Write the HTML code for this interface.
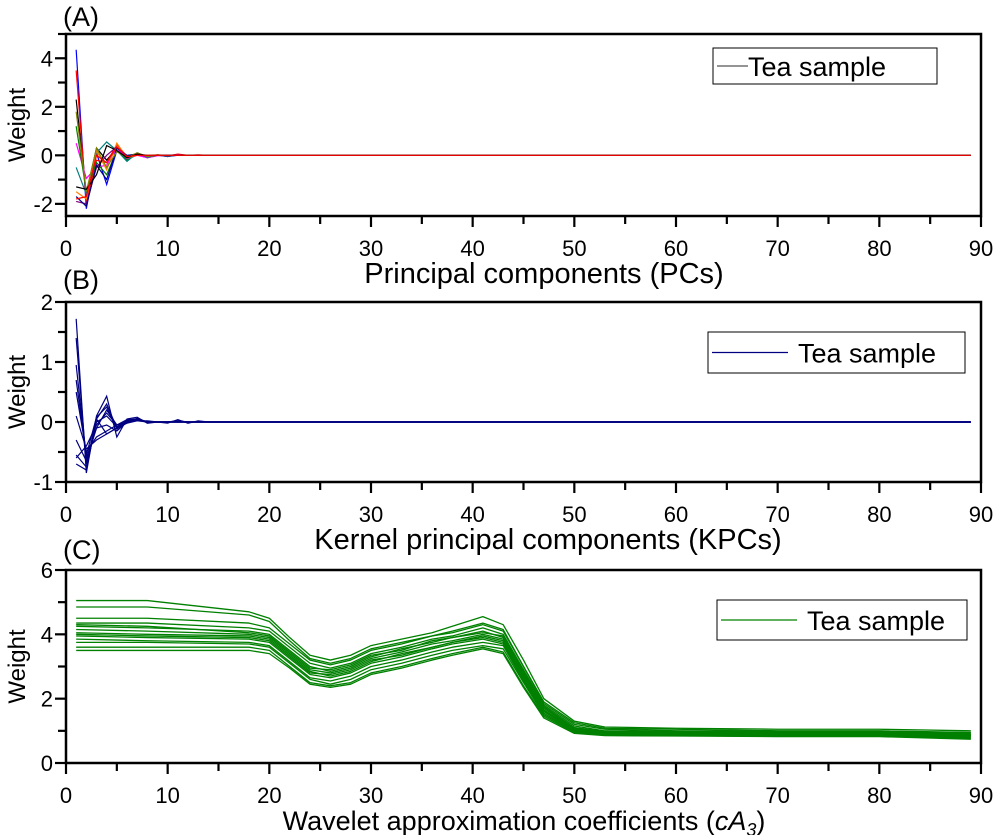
<!DOCTYPE html>
<html><head><meta charset="utf-8"><style>
body{margin:0;background:#fff;}
svg text{font-family:"Liberation Sans",sans-serif;fill:#000;}
</style></head><body>
<svg id="c" width="1000" height="835" xmlns="http://www.w3.org/2000/svg"></svg>
<script>
// ---- data ----
const xTicks=[0,10,20,30,40,50,60,70,80,90];
const yTicksA=[-2,0,2,4];
const yTicksB=[-1,0,1,2];
const yTicksC=[0,2,4,6];
const colorsA=["#000000","#0000ff","#ff0000","#ff00ff","#008000","#008080","#ff8000","#800080","#000080","#808000","#000000","#ff0000"];
const headA1=[2.3,-1.6,0.3,-0.2,0.3,-0.1,0.1,-0.05,0.02,-0.05,0.03,0,0.01,0,0,0];
const headA2=[4.35,-2.2,0.1,-1.2,0.2,-0.2,0.05,-0.1,0,-0.05,0,0,0,0,0,0];
const headA3=[3.5,-1.9,-0.2,-0.3,0.45,-0.05,0.08,-0.05,0.02,-0.02,0.05,0,0.02,0,0,0];
const headA4=[0.5,-0.95,-0.5,-0.4,0.3,-0.15,0,-0.1,-0.02,0,0.02,0,0,0,0,0];
const headA5=[1.2,-1.5,-0.3,-0.8,0.2,-0.2,0.05,-0.05,0,-0.02,0,0,0,0,0,0];
const headA6=[-0.5,-1.6,0.1,0.55,0.2,-0.25,0.1,-0.08,0,0,0,0,0,0,0,0];
const headA7=[-1.5,-1.8,0.2,-0.6,0.5,-0.1,0,0,0.02,0,0,0,0,0,0,0];
const headA8=[-1.9,-2.0,-0.5,0.0,0.35,-0.05,0.05,-0.05,0,0,0,0,0,0,0,0];
const headA9=[-1.7,-2.1,-0.4,-1.0,0.3,0.0,0.05,-0.02,0,0,0,0,0,0,0,0];
const headA10=[1.8,-1.5,0.3,-0.5,0.15,-0.1,0.1,-0.05,0,-0.02,0,0,0,0,0,0];
const headA11=[-1.3,-1.4,-0.8,0.4,0.2,-0.1,0.05,0,0,0,0,0,0,0,0,0];
const headA12=[-1.8,-1.7,0.0,-0.3,0.35,-0.05,0,0,0,0,0,0,0,0,0,0];
const headsA=[headA1,headA2,headA3,headA4,headA5,headA6,headA7,headA8,headA9,headA10,headA11,headA12];
const headB1=[1.72,-0.85,0.1,0.43,-0.25,0.05,0.08,-0.02,0,-0.02,0.04,-0.02,0.02,0,0,0];
const headB2=[1.4,-0.7,0.05,0.3,-0.1,0.02,0.05,0,0,0,0.02,0,0,0,0,0];
const headB3=[0.95,-0.6,-0.1,0.2,-0.05,0,0.03,0,0,0,0,0,0,0,0,0];
const headB4=[0.5,-0.5,-0.25,-0.15,-0.05,0.04,0.05,0,0,0,0,0,0,0,0,0];
const headB5=[0.1,-0.45,-0.3,-0.2,-0.1,-0.02,0.02,0.02,0,0,0,0,0,0,0,0];
const headB6=[-0.3,-0.65,-0.1,-0.05,-0.15,0,0.04,0,0,0,0,0,0,0,0,0];
const headB7=[-0.55,-0.75,0.0,0.1,-0.08,0.02,0.03,0.01,0,0,0,0,0,0,0,0];
const headB8=[-0.7,-0.8,0.05,-0.2,-0.1,0.03,0.02,0,0,0,0,0,0,0,0,0];
const headB9=[0.7,-0.55,0.08,0.25,-0.12,0.01,0.06,0,0,0,0.02,0,0,0,0,0];
const headB10=[-0.6,-0.4,-0.05,0.15,-0.05,0,0.03,0,0,0,0,0,0,0,0,0];
const headsB=[headB1,headB2,headB3,headB4,headB5,headB6,headB7,headB8,headB9,headB10];
const xC=[1,8,18,20,22,24,26,28,30,33,36,38,41,43,45,47,50,53,60,70,80,89];
const cS1=[5.05,5.05,4.7,4.5,3.9,3.35,3.2,3.35,3.65,3.85,4.05,4.25,4.55,4.3,3.2,2.0,1.3,1.12,1.08,1.05,1.05,1.0];
const cS2=[4.85,4.85,4.6,4.4,3.8,3.25,3.1,3.25,3.55,3.75,3.95,4.1,4.35,4.15,3.0,1.9,1.25,1.08,1.05,1.0,1.0,0.95];
const cS3=[4.5,4.5,4.35,4.2,3.7,3.2,3.05,3.2,3.5,3.7,3.95,4.05,4.3,4.1,3.0,1.85,1.2,1.05,1.0,0.98,0.98,0.93];
const cS4=[4.35,4.35,4.2,4.1,3.6,3.1,2.95,3.1,3.4,3.6,3.85,3.95,4.2,4.0,2.9,1.8,1.15,1.0,0.98,0.95,0.96,0.9];
const cS5=[4.25,4.2,4.1,4.0,3.5,3.0,2.85,3.0,3.3,3.55,3.75,3.9,4.1,3.9,2.8,1.75,1.1,0.98,0.96,0.93,0.94,0.88];
const cS6=[4.15,4.1,4.0,3.9,3.4,2.9,2.8,2.95,3.25,3.45,3.7,3.8,4.0,3.85,2.75,1.7,1.08,0.96,0.94,0.92,0.92,0.86];
const cS7=[4.05,4.0,3.95,3.85,3.35,2.85,2.7,2.85,3.15,3.4,3.6,3.75,3.95,3.8,2.7,1.65,1.05,0.95,0.92,0.9,0.9,0.85];
const cS8=[3.95,3.9,3.85,3.75,3.25,2.75,2.65,2.8,3.1,3.3,3.55,3.7,3.85,3.7,2.6,1.6,1.02,0.93,0.9,0.88,0.9,0.83];
const cS9=[3.85,3.8,3.75,3.65,3.15,2.65,2.55,2.7,3.0,3.2,3.45,3.6,3.75,3.65,2.55,1.55,1.0,0.9,0.88,0.86,0.88,0.8];
const cS10=[3.75,3.75,3.7,3.6,3.1,2.6,2.45,2.6,2.9,3.1,3.35,3.5,3.65,3.55,2.5,1.5,0.98,0.88,0.86,0.85,0.86,0.78];
const cS11=[3.6,3.6,3.6,3.5,3.0,2.5,2.4,2.5,2.8,3.0,3.25,3.4,3.6,3.45,2.4,1.45,0.95,0.86,0.85,0.83,0.84,0.76];
const cS12=[3.5,3.5,3.5,3.4,2.95,2.45,2.35,2.45,2.75,2.95,3.2,3.35,3.55,3.4,2.35,1.4,0.92,0.85,0.84,0.82,0.82,0.74];
const cS13=[4.3,4.25,4.05,3.95,3.45,2.95,2.9,3.05,3.35,3.5,3.8,3.9,4.05,3.95,2.85,1.75,1.1,0.97,0.95,0.92,0.93,0.87];
const cS14=[4.0,3.95,3.9,3.8,3.3,2.8,2.75,2.9,3.2,3.35,3.6,3.75,3.9,3.75,2.65,1.62,1.03,0.94,0.91,0.89,0.9,0.84];
const seriesC=[cS1,cS2,cS3,cS4,cS5,cS6,cS7,cS8,cS9,cS10,cS11,cS12,cS13,cS14];

const NS="http://www.w3.org/2000/svg";
const svg=document.getElementById('c');
function mk(tag,attrs,parent){const e=document.createElementNS(NS,tag);for(const k in attrs)e.setAttribute(k,attrs[k]);(parent||svg).appendChild(e);return e;}

function panel(cfg){
  const g=mk('g',{});
  
  
  const X0=66,X1=981;
  const sx=v=>X0+(v-0)/90*(X1-X0);
  const sy=v=>cfg.bot+(v-cfg.ymin)/(cfg.ymax-cfg.ymin)*(cfg.top-cfg.bot);
  cfg.draw(g,sx,sy);
  const fr=mk('rect',{x:X0,y:cfg.top,width:X1-X0,height:cfg.bot-cfg.top,fill:'none',stroke:'#000','stroke-width':2.5},g);
  
  
  const lab=mk('text',{x:63,y:cfg.top+cfg.lo,'font-size':27},g);lab.textContent=cfg.label;
  
  
  for(let v=0;v<=90;v+=5){mk('line',{x1:sx(v),x2:sx(v),y1:cfg.bot,y2:cfg.bot+(v%10==0?11:8),stroke:'#000','stroke-width':2.2},g);}
  xTicks.forEach(v=>{const t=mk('text',{x:sx(v),y:cfg.bot+40,'font-size':22,'text-anchor':'middle'},g);t.textContent=v;
    
    });
  const step=(cfg.yt[1]-cfg.yt[0])/2;
  for(let v=cfg.yt[0]-step*4;v<=cfg.ymax+1e-9;v+=step){if(v<cfg.ymin-1e-9)continue;
    mk('line',{x1:X0,x2:X0-(Math.abs(((v-cfg.yt[0])/(2*step))%1)<1e-6?11:8),y1:sy(v),y2:sy(v),stroke:'#000','stroke-width':2.2},g);}
  cfg.yt.forEach(v=>{const t=mk('text',{x:X0-13,y:sy(v)+8,'font-size':22,'text-anchor':'end'},g);t.textContent=v;
    
    });
  const yl=mk('text',{x:0,y:0,'font-size':24,'text-anchor':'middle',transform:`translate(25,${(cfg.top+cfg.bot)/2}) rotate(-90)`},g);yl.textContent='Weight';
  
  
  const xl=mk('text',{x:cfg.xc,y:cfg.bot+67,'font-size':cfg.xfs,'text-anchor':'middle'},g);
  xl.innerHTML=cfg.xtitle;
  
  
  const L=cfg.leg;
  const lg=mk('g',{},g);
  
  
  mk('rect',{x:L.x,y:L.y,width:L.w,height:L.h,fill:'#fff',stroke:'#000','stroke-width':1},lg);
  mk('line',{x1:L.x+4,x2:L.x+L.lw,y1:L.y+L.h/2,y2:L.y+L.h/2,stroke:L.c,'stroke-width':1.3},lg);
  const lt=mk('text',{x:L.x+L.lw+(L.gap||0),y:L.y+L.h/2+10,'font-size':27},lg);lt.textContent='Tea sample';
  
  
}
function headLines(g,sx,sy,heads,colors){
  heads.forEach((h,i)=>{
    const pts=[];
    for(let k=1;k<=89;k++){const v=k<=h.length?h[k-1]:0;pts.push(sx(k)+','+sy(v));}
    const p=mk('polyline',{points:pts.join(' '),fill:'none',stroke:colors[i%colors.length],'stroke-width':1.2},g);
    
    
  });
}
panel({name:'panel-a',label:'(A)',lo:-8,top:34,bot:216,ymin:-2.5,ymax:5,yt:yTicksA,xtitle:'Principal components (PCs)',xc:544,xfs:29,
  leg:{x:713,y:48,w:224,h:36,lw:35,c:'#555',gap:0},
  draw:(g,sx,sy)=>headLines(g,sx,sy,headsA,colorsA)});
panel({name:'panel-b',label:'(B)',lo:-13,top:302,bot:482,ymin:-1,ymax:2,yt:yTicksB,xtitle:'Kernel principal components (KPCs)',xc:548,xfs:29,
  leg:{x:708,y:332,w:257,h:41,lw:80,c:'#000080',gap:10},
  draw:(g,sx,sy)=>headLines(g,sx,sy,headsB,['#000080'])});
panel({name:'panel-c',label:'(C)',lo:-11,top:570,bot:763,ymin:0,ymax:6,yt:yTicksC,xc:524,xfs:27,xtitle:'Wavelet approximation coefficients (<tspan font-style="italic">cA</tspan><tspan font-style="italic" font-size="18" dy="6">3</tspan><tspan dy="-6">)</tspan>',
  leg:{x:717,y:600,w:250,h:40,lw:80,c:'#008000',gap:10},
  draw:(g,sx,sy)=>{seriesC.forEach(s=>{
    let d='';xC.forEach((x,i)=>{d+=(i?'L':'M')+sx(x)+' '+sy(s[i]);});
    const p=mk('path',{d:d,fill:'none',stroke:'#008000','stroke-width':1.3,'stroke-linejoin':'round'},g);
    
    
  });}});
</script>
</body></html>
